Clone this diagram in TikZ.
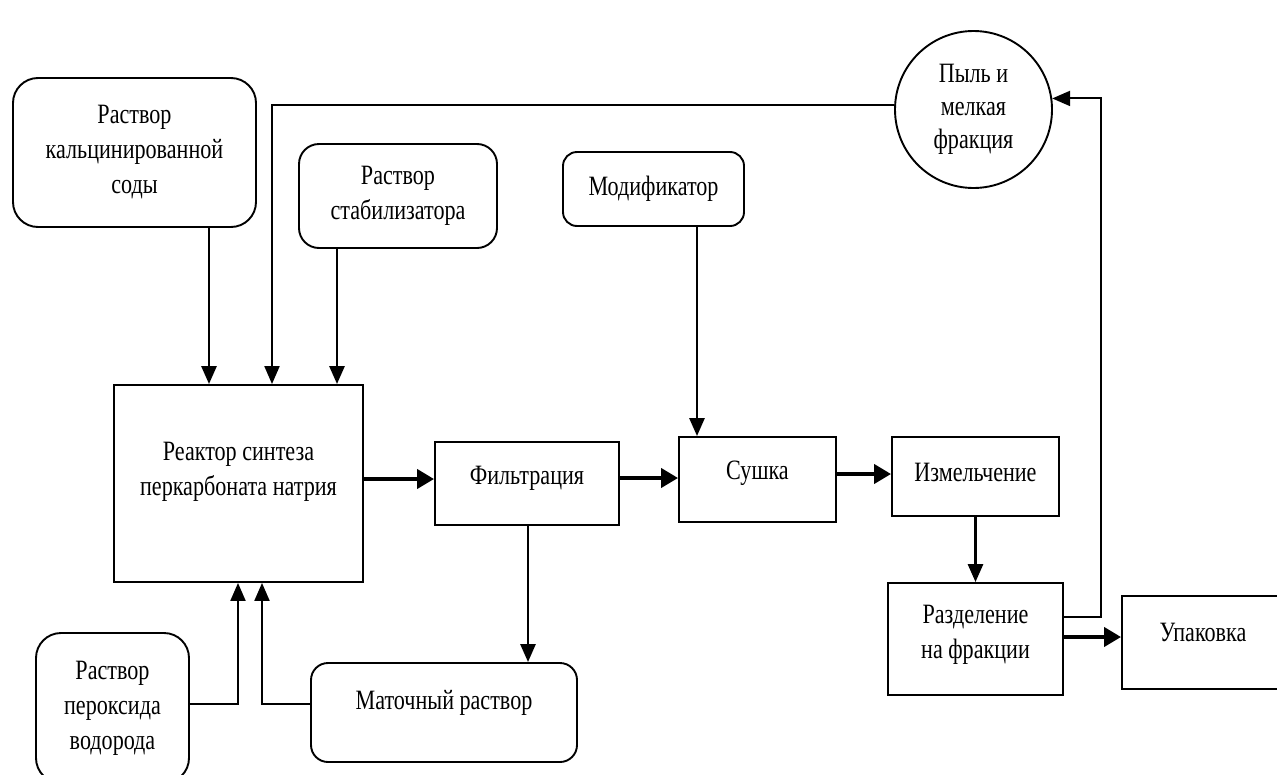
\documentclass[tikz,border=0pt]{standalone}
\usepackage{fontspec}
\setmainfont{Liberation Serif}[FakeStretch=0.79]
\usetikzlibrary{arrows.meta,shapes.geometric}
\begin{document}
\begin{tikzpicture}[x=1pt,y=-1pt,
  every node/.style={font=\fontsize{28}{35}\selectfont, align=center, inner sep=0pt},
  box/.style={draw, line width=1.9pt, rectangle},
  rbox/.style={box, rounded corners=#1},
  arr/.style={line width=2.8pt, -{Triangle[length=18pt,width=15pt]}},
  thinarr/.style={line width=2.1pt, -{Triangle[length=18pt,width=15pt]}},
  thickarr/.style={line width=4pt, -{Triangle[length=17pt,width=19pt]}}
]
\useasboundingbox (0,0) rectangle (1277,774);

% nodes
\node[rbox=25pt, minimum width=243pt, minimum height=149pt] (soda) at (134.5,152.5) {Раствор\\кальцинированной\\соды};
\node[rbox=20pt, minimum width=198pt, minimum height=104pt] (stab) at (398,196) {Раствор\\стабилизатора};
\node[rbox=14pt, minimum width=181pt, minimum height=74pt] (mod) at (653.5,189) {Модификатор};
\node[draw, circle, line width=1.9pt, minimum size=157pt, font=\fontsize{28}{33}\selectfont] (dust) at (973.5,109.5) {Пыль и\\мелкая\\фракция};
\node[box, minimum width=249pt, minimum height=197pt,
      label={[yshift=12pt]center:Реактор синтеза\\перкарбоната натрия}] (reactor) at (238.5,483.5) {};
\node[box, minimum width=184pt, minimum height=83pt,
      label={[yshift=5pt]center:Фильтрация}] (filt) at (527,483.5) {};
\node[box, minimum width=157pt, minimum height=85pt,
      label={[yshift=6pt]center:Сушка}] (dry) at (757.5,479.5) {};
\node[box, minimum width=167pt, minimum height=79pt,
      label={[yshift=4pt]center:Измельчение}] (grind) at (975.5,476.5) {};
\node[box, minimum width=175pt, minimum height=112pt,
      label={[yshift=4pt]center:Разделение\\на фракции}] (sep) at (975.5,639) {};
\node[box, minimum width=170pt, minimum height=93pt,
      label={[yshift=10pt,xshift=-4pt]center:Упаковка}] (pack) at (1207,642.5) {};
\node[rbox=25pt, minimum width=153pt, minimum height=150pt] (perox) at (112.5,708) {Раствор\\пероксида\\водорода};
\node[rbox=17pt, minimum width=266pt, minimum height=99pt,
      label={[yshift=10pt]center:Маточный раствор}] (mother) at (444,712.5) {};

% helper coordinates
\coordinate (xa) at (209,0);
\coordinate (xb) at (272,0);
\coordinate (xc) at (337,0);
\coordinate (xd) at (697,0);
\coordinate (xe) at (238,0);
\coordinate (xf) at (262,0);
\coordinate (xg) at (528,0);
\coordinate (xh) at (1101,300);
\coordinate (ya) at (0,479);
\coordinate (yb) at (0,478);
\coordinate (yc) at (0,474);
\coordinate (yd) at (0,637);
\coordinate (ye) at (0,617);
\coordinate (yf) at (0,704);

% connectors
\draw[arr] (soda.south -| xa) -- (reactor.north -| xa);
\draw[thinarr] (dust.177) -| (reactor.north -| xb);
\draw[arr] (stab.south -| xc) -- (reactor.north -| xc);
\draw[arr] (mod.south -| xd) -- (dry.north -| xd);
\draw[thickarr] (reactor.east |- ya) -- (filt.west |- ya);
\draw[thickarr] (filt.east |- yb) -- (dry.west |- yb);
\draw[thickarr] (dry.east |- yc) -- (grind.west |- yc);
\draw[arr] (grind.south -| sep.north) -- (sep.north);
\draw[thickarr] (sep.east |- yd) -- (pack.west |- yd);
\draw[thinarr] (sep.east |- ye) -| (xh) |- (dust.8);
\draw[arr] (filt.south -| xg) -- (mother.north -| xg);
\draw[thinarr] (perox.east |- yf) -| (reactor.south -| xe);
\draw[thinarr] (mother.west |- yf) -| (reactor.south -| xf);
\end{tikzpicture}
\end{document}
